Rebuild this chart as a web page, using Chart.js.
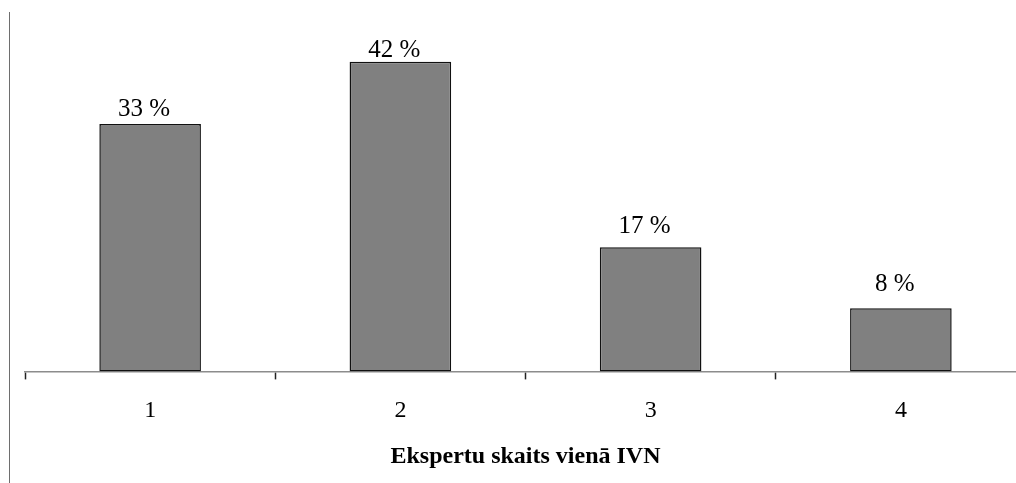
<!DOCTYPE html>
<html>
<head>
<meta charset="utf-8">
<script src="https://cdn.jsdelivr.net/npm/chart.js@4/dist/chart.umd.min.js"></script>
<style>
  html, body { margin: 0; padding: 0; background: #fff; overflow: hidden; }
  #wrap { position: absolute; left: 0; top: 0; width: 1032px; height: 483px; }
  #frame { position: absolute; left: 9px; top: 12px; width: 1px; height: 471px; background: #6e6e6e; }
</style>
</head>
<body>
<div id="wrap"><canvas id="c"></canvas></div>
<div id="frame"></div>
<script>
const categories = ['1', '2', '3', '4'];
const shares = [33.3, 41.7, 16.7, 8.5];
const valueLabels = ['33 %', '42 %', '17 %', '8 %'];
const axisTitle = 'Ekspertu skaits vienā IVN';

const labelPlugin = {
  id: 'valueLabels',
  afterDatasetsDraw(chart) {
    const ctx = chart.ctx;
    const meta = chart.getDatasetMeta(0);
    const base = chart.scales.y.getPixelForValue(0);
    ctx.save();
    ctx.font = '25px "Liberation Serif", "Times New Roman", serif';
    ctx.fillStyle = '#000';
    ctx.textAlign = 'center';
    ctx.textBaseline = 'alphabetic';
    meta.data.forEach((bar, i) => {
      const h = base - bar.y;
      const y = base - (21 + 0.947 * h);
      ctx.fillText(valueLabels[i], bar.x - 6, y);
    });
    ctx.restore();
  }
};

new Chart(document.getElementById('c'), {
  type: 'bar',
  data: {
    labels: categories,
    datasets: [{
      data: shares,
      backgroundColor: '#808080',
      borderColor: '#111',
      borderWidth: 1.5,
      borderSkipped: false,
      barPercentage: 1,
      categoryPercentage: 0.406
    }]
  },
  options: {
    responsive: true,
    maintainAspectRatio: false,
    animation: false,
    devicePixelRatio: 1,
    layout: { padding: { left: 25, right: 6, top: 0, bottom: 6 } },
    plugins: { legend: { display: false }, tooltip: { enabled: false } },
    scales: {
      y: {
        display: false,
        min: 0,
        max: 50
      },
      x: {
        offset: true,
        grid: {
          offset: true,
          drawOnChartArea: false,
          drawTicks: true,
          tickLength: 8,
          tickColor: '#222',
          tickWidth: 1.5
        },
        border: { display: true, color: '#8c8c8c', width: 1.5 },
        ticks: {
          color: '#000',
          padding: 17,
          font: { family: '"Liberation Serif", "Times New Roman", serif', size: 24 }
        },
        title: {
          display: true,
          text: axisTitle,
          color: '#000',
          padding: { top: 0, bottom: 6 },
          font: { family: '"Liberation Serif", "Times New Roman", serif', size: 24, weight: 'bold' }
        }
      }
    }
  },
  plugins: [labelPlugin]
});
</script>
</body>
</html>
